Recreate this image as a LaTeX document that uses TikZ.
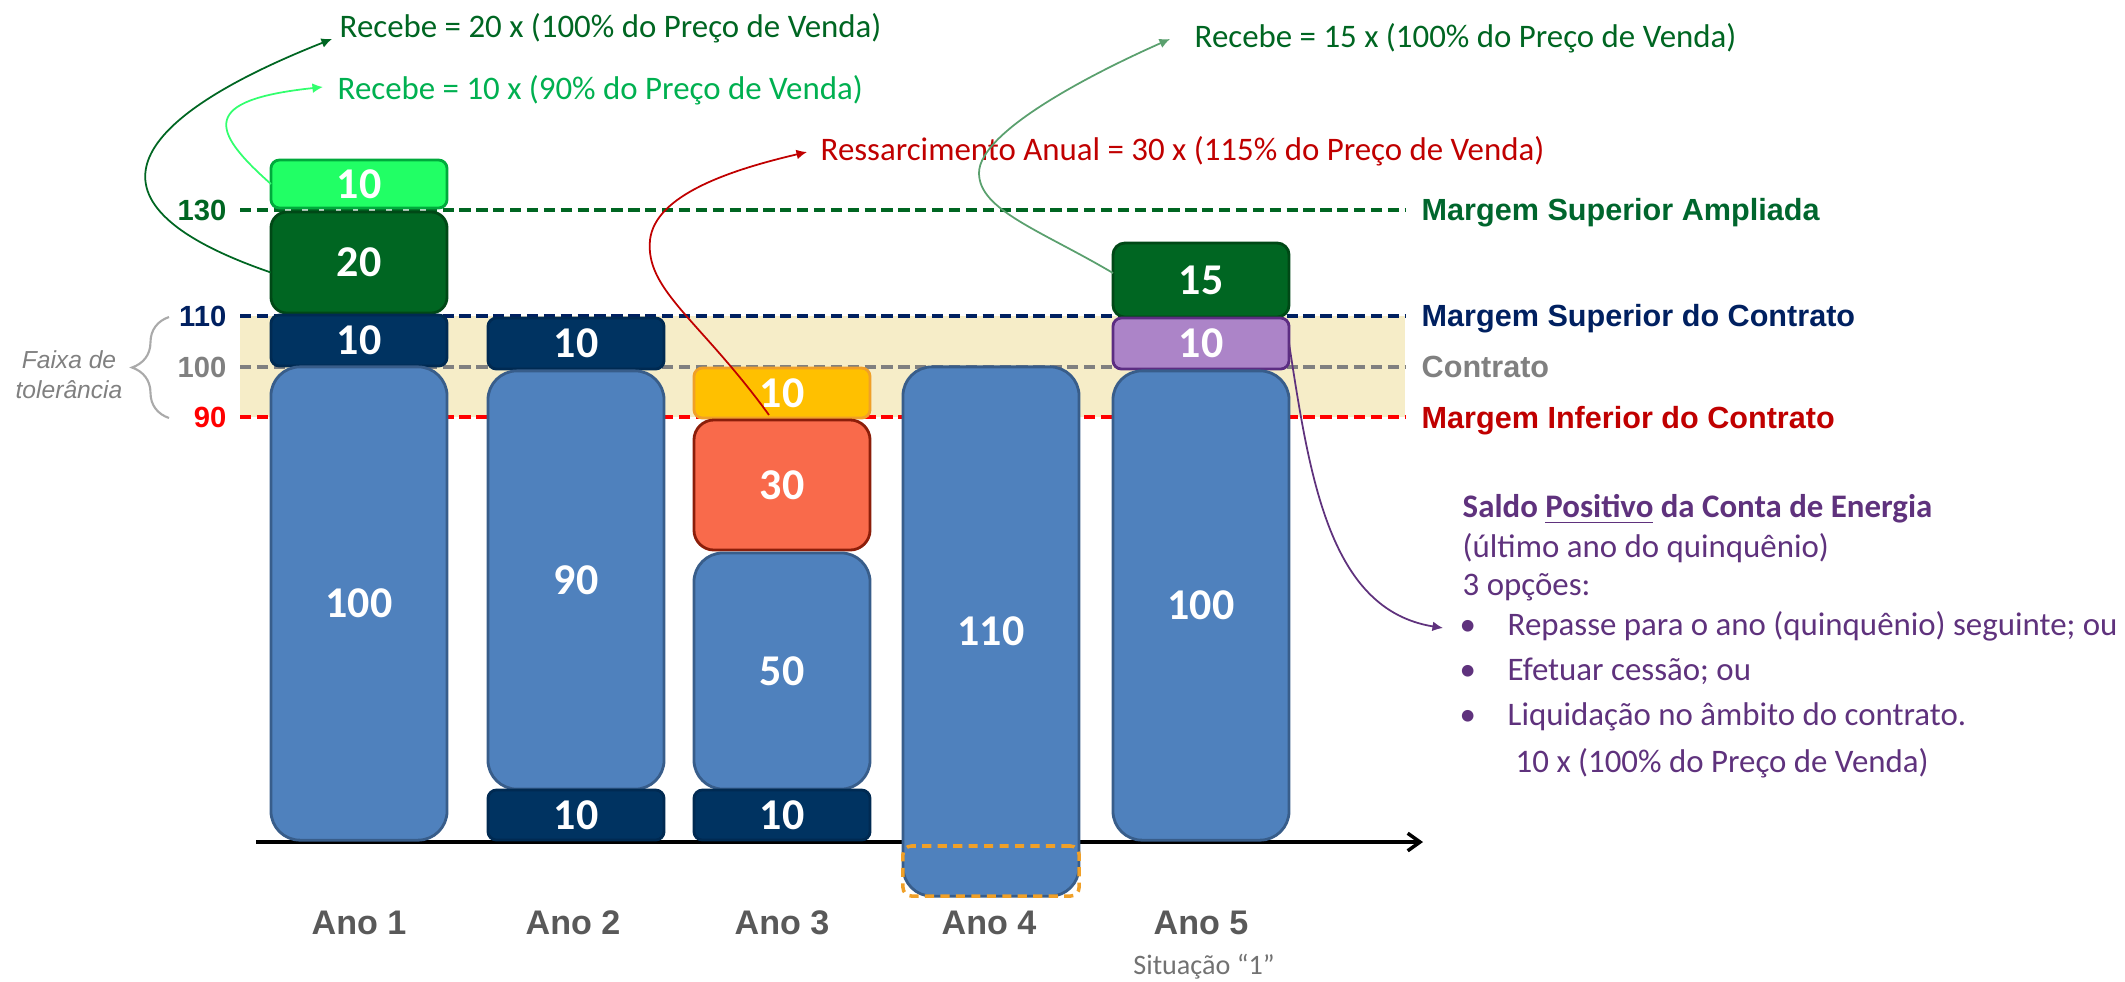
\documentclass[tikz,border=0pt]{standalone}
\usepackage{fontspec}
\setmainfont{Carlito}
\newfontfamily\arialfont{Liberation Sans}
\usepackage{xcolor}
\usepackage{tikz}
\usetikzlibrary{arrows.meta}
\usetikzlibrary{calc}
\usetikzlibrary{decorations.pathreplacing}

\definecolor{barblue}{RGB}{79,129,189}
\definecolor{barblueedge}{RGB}{56,93,138}
\definecolor{navy}{RGB}{0,51,97}
\definecolor{navyedge}{RGB}{0,42,82}
\definecolor{dkgreen}{RGB}{0,102,34}
\definecolor{dkgreenedge}{RGB}{0,72,22}
\definecolor{ltgreen}{RGB}{33,255,101}
\definecolor{ltgreenedge}{RGB}{0,170,60}
\definecolor{gold}{RGB}{255,192,0}
\definecolor{goldedge}{RGB}{240,160,40}
\definecolor{salmon}{RGB}{249,106,75}
\definecolor{salmonedge}{RGB}{140,30,10}
\definecolor{lilac}{RGB}{172,132,200}
\definecolor{lilacedge}{RGB}{92,45,130}
\definecolor{band}{RGB}{246,237,200}
\definecolor{lblgreen}{RGB}{0,102,45}
\definecolor{lblnavy}{RGB}{0,32,96}
\definecolor{lblgray}{RGB}{128,128,128}
\definecolor{lblred}{RGB}{192,0,0}
\definecolor{linered}{RGB}{255,0,0}
\definecolor{recgreen}{RGB}{0,176,80}
\definecolor{arrowlight}{RGB}{50,255,110}
\definecolor{arrowmid}{RGB}{90,160,110}
\definecolor{saldopurple}{RGB}{95,50,125}
\definecolor{yeargray}{RGB}{89,89,89}
\definecolor{bracegray}{RGB}{170,170,170}

\begin{document}
\begin{tikzpicture}[x=0.01cm, y=-0.01cm,
  >={Latex[width=2.8pt,length=3pt]},
  bigbox/.style = {rectangle, draw=barblueedge, fill=barblue, line width=0.8pt,
                   inner sep=0pt, outer sep=0pt, minimum width=1.76cm,
                   rounded corners=0.29cm, text=white,
                   font=\fontsize{12.5}{15}\selectfont\bfseries},
  smallbox/.style = {bigbox, rounded corners=0.085cm},
  gridline/.style = {line width=1.1pt, dash pattern=on 3.2pt off 1.6pt},
  marginlbl/.style = {anchor=west, inner sep=0pt, text height=6.2pt, text depth=0pt,
                      font=\arialfont\fontsize{8.7}{10.5}\selectfont\bfseries},
  scalelbl/.style = {anchor=east, inner sep=0pt, text height=6pt, text depth=0pt,
                     font=\arialfont\fontsize{8.3}{10}\selectfont\bfseries},
  note/.style = {anchor=west, inner sep=0pt, text height=6pt, text depth=0pt,
                 font=\fontsize{9.35}{11}\selectfont},
  year/.style = {text=yeargray, font=\arialfont\fontsize{9.7}{11}\selectfont\bfseries},
  link/.style = {->, line width=0.5pt}]
  \useasboundingbox (0,0) rectangle (2125,981);

  \fill[band] (240,316) rectangle (1405,417);
  \draw[gridline, dkgreen] (240,210) -- (1405,210);
  \draw[gridline, lblnavy] (240,316) -- (1405,316);
  \draw[gridline, lblgray] (240,367) -- (1405,367);
  \draw[gridline, linered] (240,417) -- (1405,417);

  \node (s130) [scalelbl, text=dkgreen] at (227,210) {130};
  \node (s110) [scalelbl, text=lblnavy] at (227,316) {110};
  \node (s100) [scalelbl, text=lblgray] at (227,367) {100};
  \node (s90) [scalelbl, text=linered] at (227,417) {90};

  \node (ampl) [marginlbl, text=lblgreen] at (1421,210) {Margem Superior Ampliada};
  \node (supc) [marginlbl, text=lblnavy] at (1421,316) {Margem Superior do Contrato};
  \node (cont) [marginlbl, text=lblgray] at (1421,367) {Contrato};
  \node (infc) [marginlbl, text=lblred] at (1421,418) {Margem Inferior do Contrato};

  \coordinate (axl) at (256,842);
  \coordinate (axr) at (1423,842);
  \draw[-{Straight Barb[length=3.5pt,width=5pt]}, line width=1pt] (axl) -- (axr);

  \node (lg10) [smallbox, fill=ltgreen, draw=ltgreenedge, minimum height=0.48cm] at (359,184) {10};
  \node (g20) [smallbox, rounded corners=0.16cm, fill=dkgreen, draw=dkgreenedge, minimum height=1.01cm] at (359,262.5) {20};
  \node (n10a) [smallbox, fill=navy, draw=navyedge, minimum height=0.51cm] at (359,340.5) {10};
  \node (b100a) [bigbox, minimum height=4.73cm] at (359,603.5) {100};

  \node (n10b) [smallbox, fill=navy, draw=navyedge, minimum height=0.51cm] at (576,343.5) {10};
  \node (b90) [bigbox, minimum height=4.18cm] at (576,580) {90};
  \node (n10c) [smallbox, fill=navy, draw=navyedge, minimum height=0.50cm] at (576,815) {10};

  \node (o10) [smallbox, fill=gold, draw=goldedge, minimum height=0.50cm] at (782,393) {10};
  \node (r30) [smallbox, rounded corners=0.2cm, fill=salmon, draw=salmonedge, minimum height=1.30cm] at (782,485) {30};
  \node (b50) [bigbox, minimum height=2.36cm] at (782,671) {50};
  \node (n10d) [smallbox, fill=navy, draw=navyedge, minimum height=0.50cm] at (782,815) {10};

  \node (b110) [bigbox, minimum height=5.29cm] at (991,631.5) {110};
  \node (gap4) [smallbox, fill=none, draw=goldedge, line width=1pt,
                dash pattern=on 2.6pt off 1.8pt, minimum height=0.50cm] at (991,871) {};

  \node (g15) [smallbox, rounded corners=0.12cm, fill=dkgreen, draw=dkgreenedge, minimum height=0.74cm] at (1201,280) {15};
  \node (p10) [smallbox, fill=lilac, draw=lilacedge, minimum height=0.51cm] at (1201,343.5) {10};
  \node (b100b) [bigbox, minimum height=4.69cm] at (1201,605.5) {100};

  \node (rec20) [note, text=dkgreen] at (339,27) {Recebe = 20 x (100\% do Preço de Venda)};
  \node (rec10) [note, text=recgreen] at (337,89) {Recebe = 10 x (90\% do Preço de Venda)};
  \node (ress) [note, text=lblred] at (820,150) {Ressarcimento Anual = 30 x (115\% do Preço de Venda)};
  \node (rec15) [note, text=dkgreen] at (1194,37) {Recebe = 15 x (100\% do Preço de Venda)};

  \draw[link, dkgreen] ($(g20.west)+(0,10)$) .. controls (60,200) and (140,115) .. ($(rec20.west)+(-7,12)$);
  \draw[link, arrowlight] (lg10.west) .. controls (210,130) and (200,100) .. ($(rec10.west)+(-14,-2)$);
  \draw[link, lblred] ($(o10.south)+(-13,-3)$) .. controls (700,320) and (645,290) .. (650,240)
    .. controls (655,195) and (730,170) .. ($(ress.west)+(-13,2)$);
  \draw[link, arrowmid] ($(g15.west)+(0,-7)$) .. controls (1040,230) and (979,210) .. (979,173)
    .. controls (979,130) and (1100,70) .. ($(rec15.west)+(-24,2)$);

  \draw[decorate, decoration={brace, amplitude=0.37cm}, draw=bracegray, line width=0.6pt]
    (169,418) -- (169,317);
  \node (faixa) [align=center, inner sep=0pt, text=lblgray,
                 font=\arialfont\fontsize{7}{8.5}\selectfont\itshape] at (69,375) {Faixa de\\tolerância};

  \node (ano1) [year] at (359,923) {Ano 1};
  \node (ano2) [year] at (573,923) {Ano 2};
  \node (ano3) [year] at (782,923) {Ano 3};
  \node (ano4) [year] at (989,923) {Ano 4};
  \node (ano5) [year] at (1201,923) {Ano 5};
  \node (situ) [text=yeargray!85, font=\fontsize{8}{9.5}\selectfont] at (1204,967) {Situação “1”};

  \node (saldo) [note, text=saldopurple, font=\fontsize{9.35}{11}\selectfont\bfseries] at (1462,507) {Saldo \underline{Positivo} da Conta de Energia};
  \node (ultimo) [note, text=saldopurple] at (1462,547) {(último ano do quinquênio)};
  \node (opcoes) [note, text=saldopurple] at (1462,585) {3 opções:};
  \node (opt1) [note, text=saldopurple] at (1459,625) {\makebox[0.48cm][l]{•}Repasse para o ano (quinquênio) seguinte; ou};
  \node (opt2) [note, text=saldopurple] at (1459,670) {\makebox[0.48cm][l]{•}Efetuar cessão; ou};
  \node (opt3) [note, text=saldopurple] at (1459,715) {\makebox[0.48cm][l]{•}Liquidação no âmbito do contrato.};
  \node (valor) [note, text=saldopurple] at (1515,762) {10 x (100\% do Preço de Venda)};

  \draw[link, saldopurple] (p10.east) .. controls (1310,480) and (1330,610) .. ($(opt1.west)+(-16,3)$);
\end{tikzpicture}
\end{document}
